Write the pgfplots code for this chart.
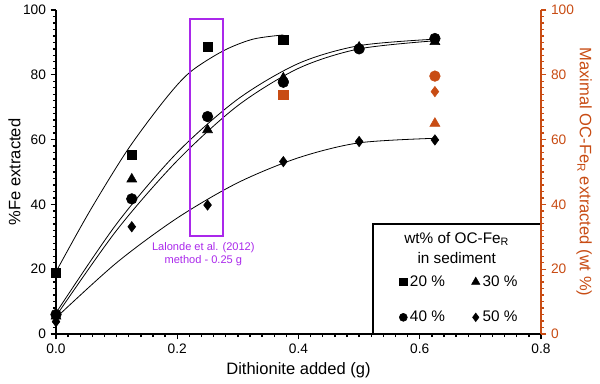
\documentclass[border=0pt]{standalone}
\usepackage{fontspec}
\setmainfont{Liberation Sans}
\usepackage{pgfplots}
\pgfplotsset{compat=1.18}
\definecolor{rust}{RGB}{200,76,20}
\definecolor{violet2}{RGB}{170,40,235}
\begin{document}
\begin{tikzpicture}
\path (-42pt,-37.5pt) rectangle (408pt,250.5pt);
\pgfplotsset{
  common/.style={
    scale only axis, width=363.75pt, height=243pt,
    xmin=0, xmax=0.8, ymin=0, ymax=100,
    /pgf/number format/assume math mode=true,
    ticklabel style={font=\fontsize{10.3}{12}\selectfont},
    label style={font=\fontsize{12.4}{14}\selectfont},
    clip mode=individual,
    tick align=outside,
    major tick length=4pt, minor tick length=2.4pt,
  }
}
\begin{axis}[common,
  axis x line*=bottom, axis y line*=left,
  axis line style={-, line width=1.1pt},
  xtick={0,0.2,0.4,0.6,0.8},
  xticklabels={0.0,0.2,0.4,0.6,0.8},
  ytick={0,20,40,60,80,100},
  minor x tick num=9, minor y tick num=9,
  tick style={black, line width=1pt},
  xlabel={Dithionite added (g)},
  ylabel={\%Fe extracted},
  ylabel style={yshift=-5pt},
  legend columns=2,
  legend style={draw=none, fill=none, at={(axis cs:0.666,10.6)}, anchor=center,
    font=\fontsize{11.5}{13}\selectfont,
    /tikz/every even column/.append style={column sep=18pt}, row sep=13pt},
]
% fitted curves
\addplot[black, line width=0.6pt, smooth, forget plot] coordinates {
 (0,19.2) (0.055,37.7) (0.118,56.8) (0.179,72.2) (0.221,80.8) (0.276,87.4) (0.325,91.0) (0.375,92.3)};
\addplot[black, line width=0.6pt, smooth, forget plot] coordinates {
 (0,6.5) (0.1,34) (0.2,56) (0.3,72.5) (0.4,83.5) (0.5,89) (0.625,91)};
\addplot[black, line width=0.6pt, smooth, forget plot] coordinates {
 (0,5.5) (0.1,32) (0.2,53.5) (0.3,70.5) (0.4,82) (0.5,88) (0.625,90.5)};
\addplot[black, line width=0.6pt, smooth, forget plot] coordinates {
 (0,5) (0.1,22) (0.2,35.8) (0.3,46.7) (0.4,54.4) (0.5,59) (0.625,60.4)};
% data
\addplot[only marks, mark=triangle*, mark size=4.3pt, black, forget plot] coordinates {
 (0,5.5) (0.125,47.8) (0.25,63) (0.375,79) (0.5,88.5) (0.625,90.2)};
\addplot[only marks, mark=*, mark size=4pt, black, forget plot] coordinates {
 (0,6) (0.125,41.7) (0.25,67.1) (0.375,77.7) (0.5,88) (0.625,91.2)};
\addplot[only marks, mark=diamond*, mark size=3.9pt, black, forget plot] coordinates {
 (0,3.8) (0.125,33.1) (0.25,39.8) (0.375,53.2) (0.5,59.4) (0.625,59.9)};
\addplot[only marks, mark=square*, mark size=3.5pt, black, forget plot] coordinates {
 (0,19) (0.125,55.3) (0.25,88.7) (0.375,90.8)};
% legend
\addlegendimage{only marks, mark=square*, mark size=2.8pt, black}
\addlegendentry{20 \%}
\addlegendimage{only marks, mark=triangle*, mark size=3.6pt, black}
\addlegendentry{30 \%}
\addlegendimage{only marks, mark=*, mark size=3pt, black}
\addlegendentry{40 \%}
\addlegendimage{only marks, mark=diamond*, mark size=3.2pt, black}
\addlegendentry{50 \%}
% annotations
\draw[violet2, line width=1.5pt] (axis cs:0.221,30.3) rectangle (axis cs:0.275,97.2);
\node[violet2, font=\fontsize{8.3}{10}\selectfont, align=center] at (axis cs:0.243,24.6)
  {Lalonde et al. (2012)\\ method - 0.25 g};
\draw[line width=1.1pt] (axis cs:0.523,0) rectangle (axis cs:0.8,34);
\node[font=\fontsize{11.5}{13}\selectfont] at (axis cs:0.661,29.3) {wt\% of OC-Fe\textsubscript{R}};
\node[font=\fontsize{11.5}{13}\selectfont] at (axis cs:0.661,23.5) {in sediment};
\end{axis}
\begin{axis}[common,
  axis y line*=right, axis x line=none,
  axis line style={-, rust, line width=1.1pt},
  ytick={0,20,40,60,80,100}, minor y tick num=9,
  tick style={rust, line width=1pt},
  yticklabel style={rust},
  ylabel={Maximal OC-Fe\textsubscript{R} extracted (wt \%)},
  ylabel style={rust, rotate=180, yshift=-5pt},
]
\addplot[only marks, mark=square*, mark size=3.5pt, rust] coordinates {(0.375,73.8)};
\addplot[only marks, mark=*, mark size=4pt, rust] coordinates {(0.625,79.6)};
\addplot[only marks, mark=diamond*, mark size=3.9pt, rust] coordinates {(0.625,74.8)};
\addplot[only marks, mark=triangle*, mark size=4.3pt, rust] coordinates {(0.625,65.0)};
\end{axis}
% tick marks (axis at origin, 363.75pt x 243pt)
\foreach \i in {0,...,40} {\draw[black, line width=1pt] (\i*9.09375pt,0) -- ++(0,-2.6pt);}
\foreach \i in {0,...,4} {\draw[black, line width=1pt] (\i*90.9375pt,0) -- ++(0,-4pt);}
\foreach \i in {0,...,50} {\draw[black, line width=1pt] (0,\i*4.86pt) -- ++(-2.6pt,0);}
\foreach \i in {0,...,5} {\draw[black, line width=1pt] (0,\i*48.6pt) -- ++(-4pt,0);}
\foreach \i in {0,...,50} {\draw[rust, line width=1pt] (363.75pt,\i*4.86pt) -- ++(2.6pt,0);}
\foreach \i in {0,...,5} {\draw[rust, line width=1pt] (363.75pt,\i*48.6pt) -- ++(4pt,0);}
\end{tikzpicture}
\end{document}
